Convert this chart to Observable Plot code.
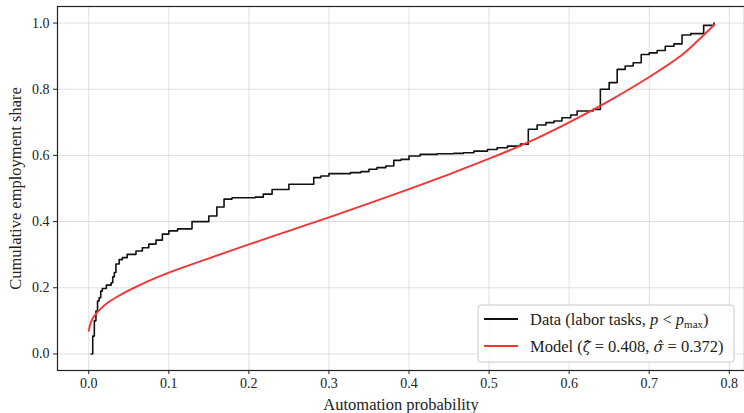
<!DOCTYPE html>
<html>
<head>
<meta charset="utf-8">
<script src="https://cdn.jsdelivr.net/npm/d3@7"></script>
<script src="https://cdn.jsdelivr.net/npm/@observablehq/plot@0.6"></script>
<style>
  html, body { margin: 0; padding: 0; background: #fff; }
  #chart { width: 744px; height: 413px; overflow: hidden; }
</style>
</head>
<body>
<div id="chart"></div>
<script>
// Empirical cumulative employment share (step points, value holds after x)
const dataX = [0.003,0.005,0.007,0.009,0.011,0.013,0.015,0.017,0.022,0.028,0.030,0.032,0.034,0.038,0.042,0.048,0.059,0.067,0.075,0.084,0.092,0.100,0.111,0.129,0.150,0.160,0.169,0.179,0.208,0.218,0.229,0.250,0.281,0.290,0.300,0.327,0.340,0.350,0.360,0.371,0.381,0.390,0.400,0.414,0.435,0.456,0.468,0.481,0.498,0.510,0.523,0.539,0.549,0.560,0.571,0.581,0.591,0.602,0.610,0.630,0.639,0.650,0.660,0.670,0.680,0.690,0.700,0.710,0.720,0.731,0.741,0.752,0.768,0.781];
const dataY = [0.000,0.054,0.100,0.130,0.160,0.170,0.190,0.198,0.208,0.215,0.233,0.246,0.272,0.285,0.291,0.301,0.311,0.321,0.332,0.344,0.362,0.372,0.378,0.400,0.417,0.444,0.468,0.472,0.474,0.483,0.497,0.513,0.533,0.538,0.545,0.548,0.551,0.558,0.563,0.568,0.585,0.588,0.598,0.603,0.605,0.606,0.608,0.613,0.618,0.623,0.628,0.634,0.679,0.692,0.699,0.704,0.714,0.722,0.734,0.739,0.800,0.820,0.860,0.870,0.880,0.905,0.910,0.917,0.930,0.937,0.964,0.968,0.993,1.000];

// Model curve
const modelX = [0.000,0.003,0.008,0.015,0.025,0.035,0.050,0.075,0.100,0.150,0.200,0.250,0.300,0.350,0.400,0.450,0.500,0.550,0.600,0.650,0.700,0.740,0.760,0.781];
const modelY = [0.070,0.098,0.118,0.137,0.157,0.172,0.192,0.221,0.246,0.289,0.331,0.372,0.413,0.455,0.498,0.543,0.590,0.641,0.700,0.765,0.837,0.902,0.945,0.994];

const xTicks = [0.0,0.1,0.2,0.3,0.4,0.5,0.6,0.7,0.8];
const yTicks = [0.0,0.2,0.4,0.6,0.8,1.0];
const xLabel = "Automation probability";
const yLabel = "Cumulative employment share";

const dataRows = dataX.map((x, i) => ({x, y: dataY[i]}));
const modelRows = modelX.map((x, i) => ({x, y: modelY[i]}));
const RED = "rgb(246,52,52)";
const FONT = "'Liberation Serif', 'DejaVu Serif', serif";

const svg = Plot.plot({
  width: 744,
  height: 413,
  marginLeft: 57,
  marginRight: 0,
  marginTop: 6,
  marginBottom: 43,
  style: {fontFamily: FONT, fontSize: "14px", color: "#222", background: "#fff"},
  x: {domain: [-0.039, 0.819]},
  y: {domain: [-0.05, 1.05]},
  marks: [
    Plot.gridX(xTicks, {stroke: "#bbb", strokeOpacity: 0.5, strokeWidth: 0.9}),
    Plot.gridY(yTicks, {stroke: "#bbb", strokeOpacity: 0.5, strokeWidth: 0.9}),
    Plot.line(dataRows, {x: "x", y: "y", curve: "step-after", stroke: "#111", strokeWidth: 1.6}),
    Plot.line(modelRows, {x: "x", y: "y", curve: "catmull-rom", stroke: RED, strokeWidth: 1.9}),
    Plot.axisX(xTicks, {tickFormat: d3.format(".1f"), tickSize: 4, tickPadding: 4, fontSize: 14, label: null, stroke: "#222"}),
    Plot.axisY(yTicks, {tickFormat: d3.format(".1f"), tickSize: 4, tickPadding: 4, fontSize: 14, label: null, stroke: "#222"}),
    Plot.frame({stroke: "#222", strokeWidth: 1.2}),
    Plot.text([xLabel], {text: d => d, frameAnchor: "bottom", lineAnchor: "middle", textAnchor: "middle", dy: 34, fontSize: 16.5, fill: "#222"}),
    Plot.text([yLabel], {text: d => d, frameAnchor: "left", lineAnchor: "middle", textAnchor: "middle", dx: -42, rotate: -90, fontSize: 16.5, fill: "#222"})
  ]
});

document.getElementById("chart").appendChild(svg);

// Legend
const s = d3.select(svg);
const lg = s.append("g").attr("font-family", FONT).attr("font-size", 16.5).attr("fill", "#222").attr("text-anchor", "start");
lg.append("rect").attr("x", 478).attr("y", 305).attr("width", 256).attr("height", 57)
  .attr("rx", 3).attr("fill", "#fff").attr("fill-opacity", 0.85).attr("stroke", "#c8c8c8").attr("stroke-width", 1);
lg.append("line").attr("x1", 484).attr("x2", 518).attr("y1", 319).attr("y2", 319).attr("stroke", "#111").attr("stroke-width", 1.8);
lg.append("line").attr("x1", 484).attr("x2", 518).attr("y1", 346).attr("y2", 346).attr("stroke", RED).attr("stroke-width", 1.8);
const t1 = lg.append("text").attr("x", 530).attr("y", 324.5);
t1.append("tspan").text("Data (labor tasks, ");
t1.append("tspan").attr("font-style", "italic").text("p");
t1.append("tspan").text(" < ");
t1.append("tspan").attr("font-style", "italic").text("p");
t1.append("tspan").attr("font-size", 11).attr("dy", 3).text("max");
t1.append("tspan").attr("dy", -3).text(")");
const t2 = lg.append("text").attr("x", 530).attr("y", 351.5);
t2.append("tspan").text("Model (");
t2.append("tspan").attr("font-style", "italic").attr("font-family", "'DejaVu Serif'").attr("font-size", 14.5).text("\u03B6\u0302");
t2.append("tspan").text(" = 0.408, ");
t2.append("tspan").attr("font-style", "italic").attr("font-family", "'DejaVu Serif'").attr("font-size", 14.5).text("\u03C3\u0302");
t2.append("tspan").text(" = 0.372)");
</script>
</body>
</html>
